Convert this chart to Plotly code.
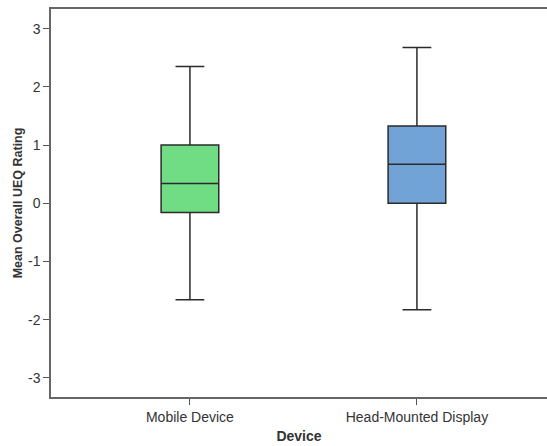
import plotly.graph_objects as go

# Summary statistics for the mean overall UEQ rating by device
devices = ["Mobile Device", "Head-Mounted Display"]
lower_whisker = [-1.66, -1.83]
q1 = [-0.16, 0.0]
median = [0.34, 0.67]
q3 = [1.00, 1.33]
upper_whisker = [2.35, 2.68]
fill_colors = ["rgb(112,220,132)", "rgb(114,163,214)"]
y_ticks = [-3, -2, -1, 0, 1, 2, 3]

fig = go.Figure()
for i, dev in enumerate(devices):
    fig.add_trace(go.Box(
        x=[i],
        q1=[q1[i]], median=[median[i]], q3=[q3[i]],
        lowerfence=[lower_whisker[i]], upperfence=[upper_whisker[i]],
        name=dev,
        width=0.254,
        whiskerwidth=0.5,
        fillcolor=fill_colors[i],
        line=dict(color="#2b2b2b", width=1.5),
        boxpoints=False,
        hoverinfo="skip",
        showlegend=False,
    ))

font = "Liberation Sans, Arial, sans-serif"
fig.update_layout(
    width=547, height=446,
    margin=dict(l=51, r=0, t=9, b=49),
    paper_bgcolor="white", plot_bgcolor="white",
    font=dict(family=font, size=14, color="#333333"),
    xaxis=dict(
        range=[-0.612, 1.573],
        tickmode="array", tickvals=[0, 1], ticktext=devices,
        ticks="outside", ticklen=6, tickcolor="#555555", tickwidth=1,
        showline=True, linecolor="#666666", linewidth=1.5, mirror=True,
        showgrid=False, zeroline=False,
        tickfont=dict(size=14, color="#333333"),
        title=dict(text="<b>Device</b>", font=dict(size=14, color="#333333"), standoff=8),
    ),
    yaxis=dict(
        range=[-3.33, 3.34],
        tickmode="array", tickvals=y_ticks, ticktext=[str(t) for t in y_ticks],
        ticks="outside", ticklen=6, tickcolor="#555555", tickwidth=1,
        showline=True, linecolor="#666666", linewidth=1.5, mirror=False,
        showgrid=False, zeroline=False,
        tickfont=dict(size=14, color="#333333"),
        title=dict(text="<b>Mean Overall UEQ Rating</b>", font=dict(size=12.5, color="#333333"), standoff=3),
    ),
)

fig.write_html("out.html")
